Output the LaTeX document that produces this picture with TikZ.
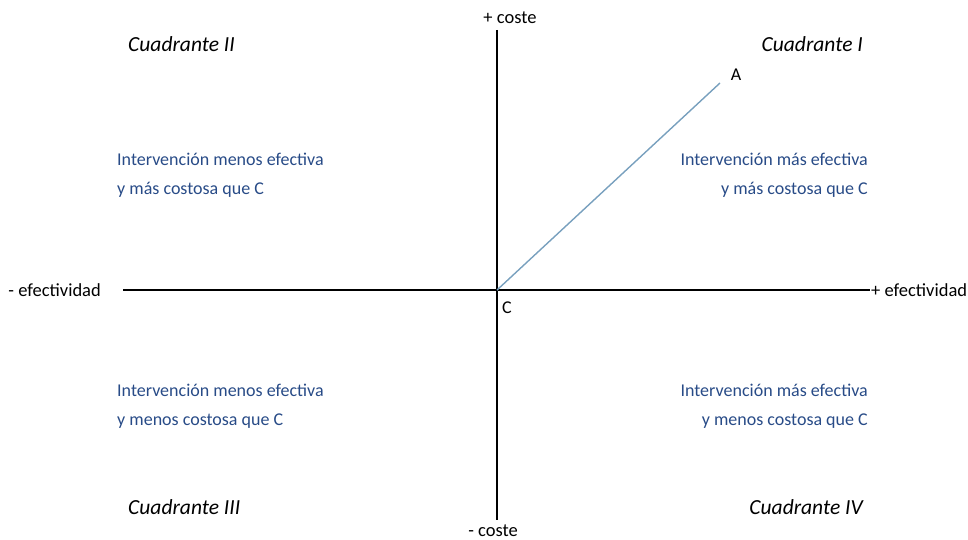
\documentclass[tikz,border=0pt]{standalone}
\usepackage{fontspec}
\setmainfont{Carlito}
\usepackage{tikz}
\usetikzlibrary{positioning,calc}
\definecolor{QuadBlue}{RGB}{40,75,135}
\definecolor{LineBlue}{RGB}{120,160,190}
\tikzset{axis/.style={draw=black,line width=2.4pt}, axlab/.style={inner sep=0pt,font=\fontsize{18.5}{20}\selectfont}, quad/.style={font=\fontsize{21.5}{24}\selectfont\itshape,inner sep=0pt}, desc/.style={text=QuadBlue,font=\fontsize{18}{29}\selectfont,inner sep=0pt}, pt/.style={inner sep=0pt,font=\fontsize{18}{19}\selectfont}}

\begin{document}
\begin{tikzpicture}[x=1pt,y=-1pt]
\useasboundingbox (0,0) rectangle (968,540);
\coordinate (o) at (497,290);
\coordinate (top) at (497,30);
\coordinate (bot) at (497,520);
\coordinate (lft) at (123,290);
\coordinate (rgt) at (870,290);
\coordinate (a) at (720,83);
\draw[axis] (lft)--(rgt);
\draw[axis] (top)--(bot);
\draw[LineBlue,line width=1.4pt] (o)--(a);
\node[axlab] (pcost) at (510,18) {+ coste};
\node[axlab] (mcost) at (493,531) {- coste};
\node[axlab,anchor=east] (mef) at (101,290) {- efectividad};
\node[axlab,anchor=west] (pef) at (871,290) {+ efectividad};
\node[pt] (c) at (507,308) {C};
\node[pt] (pa) at (736,75) {A};
\node[quad,anchor=west] (q2) at (128,44) {Cuadrante II};
\node[quad,anchor=east] (q1) at (863,44) {Cuadrante I};
\node[quad,anchor=west] (q3) at (128,507) {Cuadrante III};
\node[quad,anchor=east] (q4) at (863,507) {Cuadrante IV};
\node[desc,anchor=west,align=left] (d2) at (117,175) {Intervención menos efectiva\\y más costosa que C};
\node[desc,anchor=east,align=right] (d1) at (868,175) {Intervención más efectiva\\y más costosa que C};
\node[desc,anchor=west,align=left] (d3) at (117,406) {Intervención menos efectiva\\y menos costosa que C};
\node[desc,anchor=east,align=right] (d4) at (868,406) {Intervención más efectiva\\y menos costosa que C};
\end{tikzpicture}
\end{document}
